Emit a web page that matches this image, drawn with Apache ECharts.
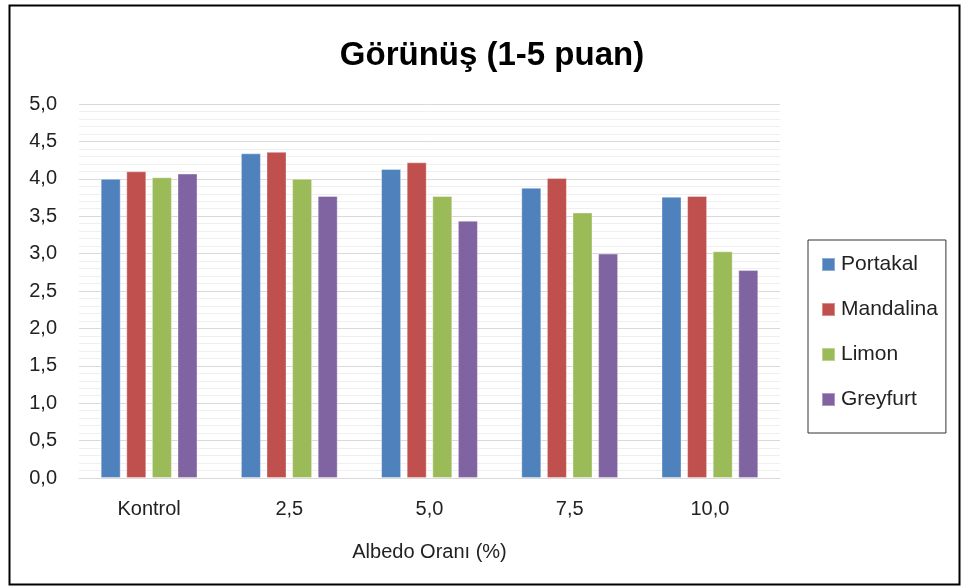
<!DOCTYPE html>
<html>
<head>
<meta charset="utf-8">
<script src="https://cdn.jsdelivr.net/npm/echarts@6/dist/echarts.min.js"></script>
<style>
html,body{margin:0;padding:0;background:#fff;}
#c{width:963px;height:586px;}
</style>
</head>
<body>
<div id="c"></div>
<script>
const categories = ['Kontrol', '2,5', '5,0', '7,5', '10,0'];
const portakal  = [4.00, 4.34, 4.13, 3.88, 3.76];
const mandalina = [4.10, 4.36, 4.22, 4.01, 3.77];
const limon     = [4.02, 4.00, 3.77, 3.55, 3.03];
const greyfurt  = [4.07, 3.77, 3.44, 3.00, 2.78];
const seriesNames = ['Portakal', 'Mandalina', 'Limon', 'Greyfurt'];
const colors = ['#4F81BD', '#C0504D', '#9BBB59', '#8064A2'];

const font = 'Liberation Sans';
const chart = echarts.init(document.getElementById('c'), null, {renderer: 'canvas'});
const seriesData = [portakal, mandalina, limon, greyfurt];
chart.setOption({
  animation: false,
  color: colors,
  title: {
    text: 'Görünüş (1-5 puan)',
    left: 487, top: 34, textAlign: 'center',
    textStyle: {fontFamily: font, fontSize: 33, fontWeight: 'bold', color: '#000'}
  },
  graphic: [{
    type: 'rect', left: 7, top: 3, z: 100,
    shape: {width: 950, height: 579},
    style: {fill: 'none', stroke: '#000', lineWidth: 2}
  }],
  legend: {
    orient: 'vertical', left: 808, top: 240,
    padding: [14, 8, 23, 13],
    itemWidth: 13, itemHeight: 13, itemGap: 24,
    borderColor: '#333', borderWidth: 1,
    icon: 'rect',
    textStyle: {fontFamily: font, fontSize: 21, color: '#222', padding: [0,0,0,1]},
    data: seriesNames
  },
  grid: {left: 79, right: 183, top: 104, bottom: 108, containLabel: false},
  xAxis: {
    type: 'category', data: categories,
    axisLine: {lineStyle: {color: '#d9d9d9', width: 1}},
    axisTick: {show: false},
    axisLabel: {fontFamily: font, fontSize: 20, color: '#222', margin: 21},
    name: 'Albedo Oranı (%)', nameLocation: 'middle', nameGap: 64,
    nameTextStyle: {fontFamily: font, fontSize: 20, color: '#222'}
  },
  yAxis: {
    type: 'value', min: 0, max: 5, interval: 0.5,
    axisLine: {show: false}, axisTick: {show: false},
    axisLabel: {fontFamily: font, fontSize: 20, color: '#222', margin: 22,
      formatter: v => v.toFixed(1).replace('.', ',')},
    splitLine: {lineStyle: {color: '#d9d9d9', width: 1}},
    minorTick: {show: false, splitNumber: 5},
    minorSplitLine: {show: true, lineStyle: {color: '#efefef', width: 1}}
  },
  series: seriesNames.map((n, i) => ({
    name: n, type: 'bar', data: seriesData[i],
    barWidth: 20, barGap: '28%',
    itemStyle: {color: colors[i], borderColor: 'rgba(255,255,255,0.35)', borderWidth: 1}
  }))
});
</script>
</body>
</html>
